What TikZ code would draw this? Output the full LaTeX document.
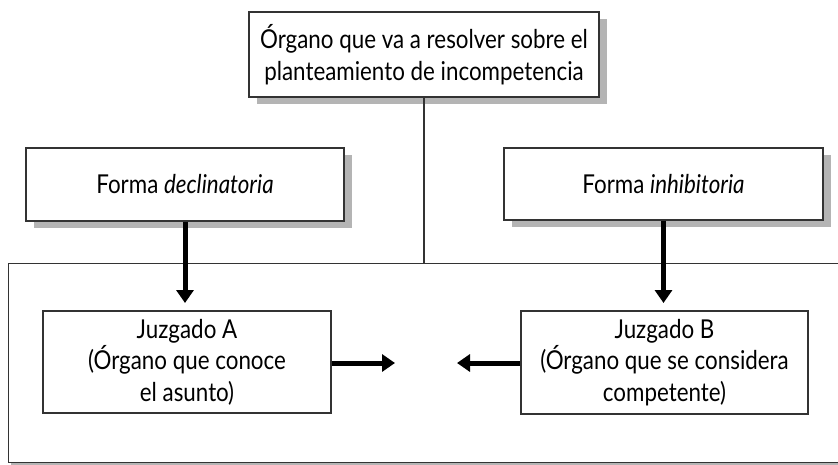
\documentclass[tikz,border=0pt]{standalone}
\usepackage{fontspec}
\setmainfont{Lato}[FakeStretch=0.86]
\usetikzlibrary{arrows.meta,calc,shadows}
\definecolor{shade}{HTML}{B4B4B4}
\definecolor{edge}{HTML}{333333}
\tikzset{
  box/.style={draw=edge, line width=1.3pt, fill=white, align=center, inner sep=0pt,
    font=\fontsize{26}{31.5}\selectfont},
  greyshadow/.style={drop shadow={shadow xshift=8pt, shadow yshift=-7pt, fill=shade, opacity=1}},
  thinshadow/.style={drop shadow={shadow xshift=2pt, shadow yshift=-2pt, fill=shade, opacity=1}},
  thick arrow/.style={line width=5pt, -{Triangle[width=17pt,length=13pt]}},
  thin link/.style={line width=1.1pt, draw=edge}
}
\begin{document}
\begin{tikzpicture}[x=1pt,y=-1pt]
\useasboundingbox (0,0) rectangle (838,464);
% big frame
\node[box, thinshadow, minimum width=850pt, minimum height=199pt, anchor=north west] (frame) at (8,263) {};
% top box
\node[box, greyshadow, minimum width=350pt, minimum height=85pt] (top) at (424,54.5)
  {Órgano que va a resolver sobre el\\planteamiento de incompetencia};
% declinatoria
\node[box, greyshadow, minimum width=318pt, minimum height=73pt] (decl) at (185,184.5)
  {Forma \textit{declinatoria}};
% inhibitoria
\node[box, greyshadow, minimum width=319pt, minimum height=72pt] (inhi) at (663.5,184)
  {Forma \textit{inhibitoria}};
% link from top box to frame
\draw[thin link] (top.south) -- (top.south |- frame.north);
% juzgados
\node[box, line width=1.1pt, minimum width=288pt, minimum height=102pt] (ja) at (187,362)
  {Juzgado A\\(Órgano que conoce\\el asunto)};
\node[box, line width=1.1pt, minimum width=287pt, minimum height=103pt] (jb) at (664.5,362.5)
  {Juzgado B\\(Órgano que se considera\\competente)};
% arrow ends
\coordinate (tipA) at (decl.south |- 0,303);
\coordinate (tipB) at (inhi.south |- 0,303);
\coordinate (tipR) at (395,363);
\coordinate (tipL) at (457,363);
\draw[thick arrow] (decl.south) -- (tipA);
\draw[thick arrow] (inhi.south) -- (tipB);
\draw[thick arrow] (ja.east |- tipR) -- (tipR);
\draw[thick arrow] (jb.west |- tipL) -- (tipL);
\end{tikzpicture}
\end{document}
